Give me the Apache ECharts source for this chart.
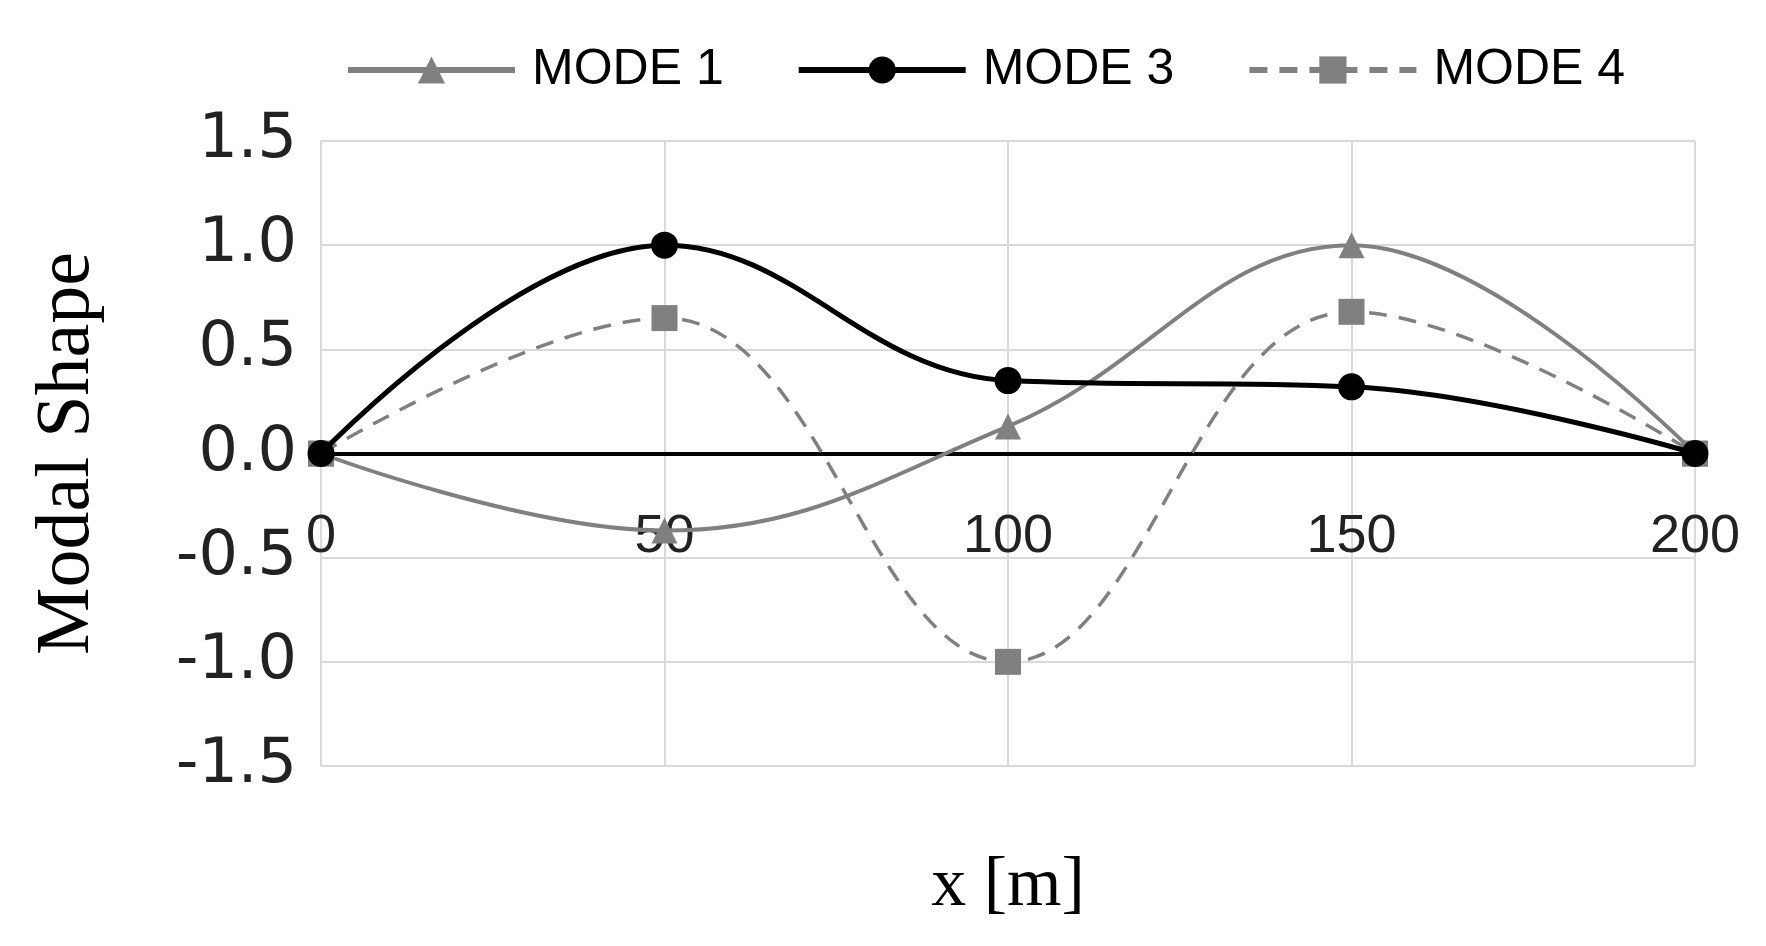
<!DOCTYPE html>
<html>
<head>
<meta charset="utf-8">
<script src="https://cdn.jsdelivr.net/npm/echarts@6/dist/echarts.min.js"></script>
<style>
  html, body { margin: 0; padding: 0; background: #fff; }
  #chart { width: 1766px; height: 946px; }
</style>
</head>
<body>
<div id="chart"></div>
<script>
  // x positions along the span [m]
  var xPos = [0, 50, 100, 150, 200];
  // modal shape values
  var mode1 = [0, -0.37, 0.13, 1.0, 0];
  var mode3 = [0, 1.0, 0.35, 0.32, 0];
  var mode4 = [0, 0.65, -1.0, 0.68, 0];
  var yTicks = [-1.5, -1.0, -0.5, 0.0, 0.5, 1.0, 1.5];

  function pairs(vals) {
    return xPos.map(function (x, i) { return [x, vals[i]]; });
  }

  var gray = '#808080';
  var gridColor = '#d9d9d9';
  var plotH = 946 - 141 - 180;

  var myChart = echarts.init(document.getElementById('chart'));
  myChart.setOption({
    animation: false,
    legend: {
      top: 40,
      left: 340,
      itemWidth: 167,
      itemHeight: 34,
      itemGap: 72,
      lineStyle: { width: 6 },
      textStyle: {
        fontFamily: 'Liberation Sans',
        fontSize: 50,
        color: '#000',
        padding: [0, 0, 0, 12]
      },
      data: ['MODE 1', 'MODE 3', 'MODE 4']
    },
    grid: {
      left: 321,
      right: 71,
      top: 141,
      bottom: 180,
      containLabel: false,
      outerBoundsMode: 'none'
    },
    xAxis: {
      type: 'value',
      min: 0,
      max: 200,
      interval: 50,
      position: 'bottom',
      // axis sits on the zero line, half way up the plot
      offset: -plotH / 2,
      name: 'x [m]',
      nameLocation: 'middle',
      nameGap: 398,
      nameTextStyle: {
        fontFamily: 'Liberation Serif',
        fontSize: 70,
        color: '#000'
      },
      axisLine: { show: true, onZero: false, lineStyle: { color: '#000', width: 4 } },
      axisTick: { show: false },
      axisLabel: {
        margin: 57,
        fontFamily: 'Liberation Sans',
        fontSize: 54,
        color: '#222',
        hideOverlap: false
      },
      splitLine: { show: true, lineStyle: { color: gridColor, width: 2 } }
    },
    yAxis: {
      type: 'value',
      min: yTicks[0],
      max: yTicks[yTicks.length - 1],
      interval: 0.5,
      name: 'Modal Shape',
      nameLocation: 'middle',
      nameGap: 215,
      nameTextStyle: {
        fontFamily: 'Liberation Serif',
        fontSize: 76,
        color: '#000'
      },
      axisLine: { show: true, lineStyle: { color: gridColor, width: 2 } },
      axisTick: { show: false },
      axisLabel: {
        margin: 24,
        fontFamily: 'DejaVu Sans',
        fontSize: 62,
        color: '#222',
        showMinLabel: true,
        showMaxLabel: true,
        formatter: function (v) { return v.toFixed(1); }
      },
      splitLine: { show: true, lineStyle: { color: gridColor, width: 2 } }
    },
    series: [
      {
        name: 'MODE 1',
        type: 'line',
        data: pairs(mode1),
        smooth: 0.4,
        symbol: 'triangle',
        symbolSize: 26,
        itemStyle: { color: gray },
        lineStyle: { color: gray, width: 4 },
        z: 2
      },
      {
        name: 'MODE 3',
        type: 'line',
        data: pairs(mode3),
        smooth: 0.4,
        symbol: 'circle',
        symbolSize: 27,
        itemStyle: { color: '#000' },
        lineStyle: { color: '#000', width: 5 },
        z: 4
      },
      {
        name: 'MODE 4',
        type: 'line',
        data: pairs(mode4),
        smooth: 0.4,
        symbol: 'rect',
        symbolSize: 26,
        itemStyle: { color: gray },
        lineStyle: { color: gray, width: 3.5, type: [18, 12] },
        z: 3
      }
    ]
  });
</script>
</body>
</html>
